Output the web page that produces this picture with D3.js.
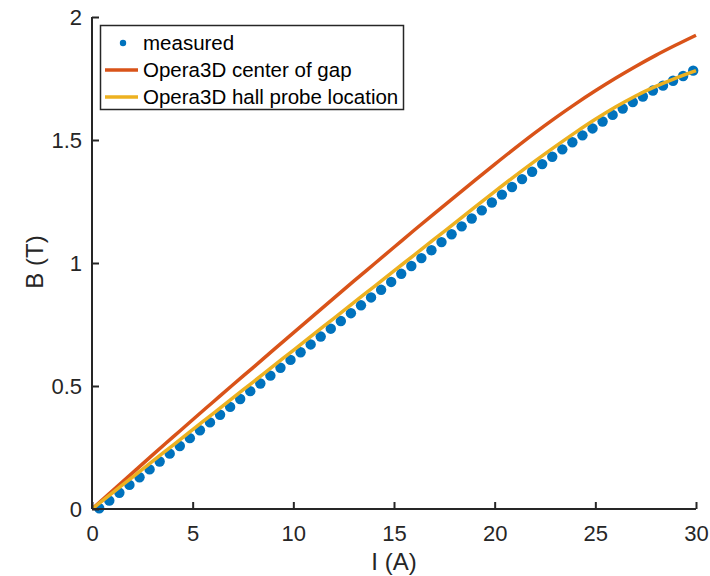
<!DOCTYPE html>
<html>
<head>
<meta charset="utf-8">
<script src="https://cdn.jsdelivr.net/npm/d3@7"></script>
<style>
  html, body { margin: 0; padding: 0; background: #fff; }
  svg { display: block; font-family: "Liberation Sans", Arial, Helvetica, sans-serif; }
</style>
</head>
<body>
<svg id="chart" width="710" height="576"></svg>
<script>
// Measured field vs current
const measuredI = [0.36, 0.86, 1.36, 1.86, 2.36, 2.86, 3.36, 3.86, 4.36, 4.86,
  5.36, 5.86, 6.36, 6.86, 7.36, 7.86, 8.36, 8.86, 9.36, 9.86,
  10.36, 10.86, 11.36, 11.86, 12.36, 12.86, 13.36, 13.86, 14.36, 14.86,
  15.36, 15.86, 16.36, 16.86, 17.36, 17.86, 18.36, 18.86, 19.36, 19.86,
  20.36, 20.86, 21.36, 21.86, 22.36, 22.86, 23.36, 23.86, 24.36, 24.86,
  25.36, 25.86, 26.36, 26.86, 27.36, 27.86, 28.36, 28.86, 29.36, 29.86];
const measuredB = [0.003, 0.034, 0.066, 0.098, 0.129, 0.161, 0.193, 0.225, 0.256, 0.288,
  0.320, 0.352, 0.383, 0.415, 0.447, 0.479, 0.510, 0.542, 0.574, 0.606,
  0.637, 0.669, 0.701, 0.733, 0.764, 0.796, 0.828, 0.860, 0.891, 0.923,
  0.956, 0.988, 1.020, 1.052, 1.085, 1.117, 1.149, 1.181, 1.214, 1.246,
  1.278, 1.309, 1.341, 1.371, 1.402, 1.432, 1.462, 1.491, 1.519, 1.547,
  1.575, 1.602, 1.628, 1.654, 1.677, 1.701, 1.721, 1.741, 1.760, 1.782];

// Opera3D simulation, sampled every 1 A
const simI = [0, 1, 2, 3, 4, 5, 6, 7, 8, 9, 10, 11, 12, 13, 14, 15, 16, 17, 18, 19,
  20, 21, 22, 23, 24, 25, 26, 27, 28, 29, 30];
const centerGapB = [0, 0.073, 0.146, 0.219, 0.291, 0.363, 0.434, 0.505, 0.575, 0.646,
  0.716, 0.786, 0.856, 0.926, 0.995, 1.064, 1.133, 1.201, 1.268, 1.335,
  1.401, 1.466, 1.529, 1.589, 1.646, 1.700, 1.751, 1.799, 1.844, 1.886, 1.926];
const hallProbeB = [0, 0.065, 0.129, 0.194, 0.258, 0.323, 0.387, 0.452, 0.516, 0.581,
  0.645, 0.710, 0.774, 0.839, 0.903, 0.968, 1.032, 1.097, 1.161, 1.226,
  1.290, 1.353, 1.414, 1.473, 1.530, 1.584, 1.634, 1.679, 1.718, 1.752, 1.782];

const xTicks = [0, 5, 10, 15, 20, 25, 30];
const yTicks = [0, 0.5, 1, 1.5, 2];
const legendLabels = ["measured", "Opera3D center of gap", "Opera3D hall probe location"];

const colors = { measured: "#0072BD", center: "#D95319", hall: "#EDB120", axis: "#262626" };

const svg = d3.select("#chart");
const plotLeft = 92, plotRight = 696, plotTop = 17, plotBottom = 509;

const x = d3.scaleLinear().domain([0, 30]).range([plotLeft, plotRight]);
const y = d3.scaleLinear().domain([0, 2]).range([plotBottom, plotTop]);

const plot = svg.append("g");

// measured points
plot.selectAll("circle.meas")
  .data(measuredI.map((v, i) => [v, measuredB[i]]))
  .join("circle")
  .attr("class", "meas")
  .attr("cx", d => x(d[0]))
  .attr("cy", d => y(d[1]))
  .attr("r", 5.2)
  .attr("fill", colors.measured);

const line = d3.line().x(d => x(d[0])).y(d => y(d[1])).curve(d3.curveMonotoneX);

plot.append("path")
  .datum(simI.map((v, i) => [v, centerGapB[i]]))
  .attr("d", line)
  .attr("fill", "none")
  .attr("stroke", colors.center)
  .attr("stroke-width", 3.5);

plot.append("path")
  .datum(simI.map((v, i) => [v, hallProbeB[i]]))
  .attr("d", line)
  .attr("fill", "none")
  .attr("stroke", colors.hall)
  .attr("stroke-width", 3.5);

// axes (ticks point inward)
const xAxis = d3.axisBottom(x).tickValues(xTicks).tickSize(-7).tickPadding(16).tickFormat(d3.format("d"));
const yAxis = d3.axisLeft(y).tickValues(yTicks).tickSize(-7).tickPadding(10).tickFormat(d => d3.format("")(d));

const gx = svg.append("g").attr("transform", `translate(0,${plotBottom})`).call(xAxis);
const gy = svg.append("g").attr("transform", `translate(${plotLeft},0)`).call(yAxis);

[gx, gy].forEach(g => {
  g.select(".domain").attr("stroke", colors.axis).attr("stroke-width", 2);
  g.selectAll(".tick line").attr("stroke", colors.axis).attr("stroke-width", 2);
  g.selectAll(".tick text").attr("fill", colors.axis).style("font-size", "22px")
    .style("font-family", "'Liberation Sans', Arial, sans-serif");
});
gx.select(".domain").attr("d", `M${plotLeft},0H${plotRight}`);
gy.select(".domain").attr("d", `M0,${plotBottom}V${plotTop}`);

// axis labels
svg.append("text")
  .attr("x", (plotLeft + plotRight) / 2)
  .attr("y", 570)
  .attr("text-anchor", "middle")
  .attr("fill", colors.axis)
  .style("font-size", "24px")
  .text("I (A)");

svg.append("text")
  .attr("transform", `translate(43,262) rotate(-90)`)
  .attr("text-anchor", "middle")
  .attr("fill", colors.axis)
  .style("font-size", "24px")
  .text("B (T)");

// legend
const lg = svg.append("g");
lg.append("rect")
  .attr("x", 100.5).attr("y", 25.5)
  .attr("width", 303).attr("height", 84)
  .attr("fill", "#fff")
  .attr("stroke", colors.axis)
  .attr("stroke-width", 1.5);

const rowY = [43, 70, 97];
lg.append("circle").attr("cx", 123).attr("cy", rowY[0]).attr("r", 3.2).attr("fill", colors.measured);
lg.append("line").attr("x1", 105).attr("x2", 138).attr("y1", rowY[1]).attr("y2", rowY[1])
  .attr("stroke", colors.center).attr("stroke-width", 3.5);
lg.append("line").attr("x1", 105).attr("x2", 138).attr("y1", rowY[2]).attr("y2", rowY[2])
  .attr("stroke", colors.hall).attr("stroke-width", 3.5);

lg.selectAll("text.leg")
  .data(legendLabels)
  .join("text")
  .attr("class", "leg")
  .attr("x", 143)
  .attr("y", (d, i) => rowY[i])
  .attr("dy", "0.36em")
  .attr("fill", "#000")
  .style("font-size", "20.5px")
  .text(d => d);
</script>
</body>
</html>
